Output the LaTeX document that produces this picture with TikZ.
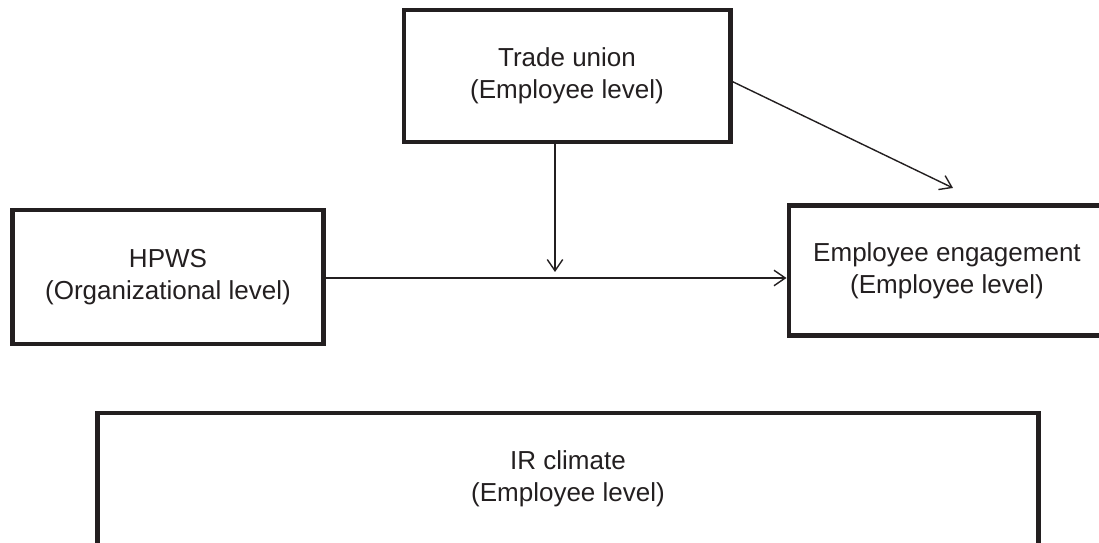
\documentclass[tikz,border=0pt]{standalone}
\usepackage{fontspec}
\setmainfont{Liberation Sans}
\usepackage{xcolor}
\usepackage{tikz}
\usetikzlibrary{arrows.meta, positioning, calc}
\definecolor{tinta}{HTML}{231F20}
\tikzset{
  every picture/.style={x=0.025cm, y=-0.025cm},
  caja/.style={draw=tinta, text=tinta, line width=3.5pt, align=center,
               font=\fontsize{18.5}{22.7}\selectfont},
  flecha/.style={-{Straight Barb[length=8pt, width=11pt]}, line width=1pt, tinta},
}

\begin{document}
\begin{tikzpicture}
  \useasboundingbox (0,0) rectangle (1099,543);
  \node[caja, minimum width=8.15cm, minimum height=3.3cm] (TU) at (567,76) {Trade union\\(Employee level)};
  \node[caja, minimum width=7.75cm, minimum height=3.35cm] (HPWS) at (168,277) {HPWS\\(Organizational level)};
  \node[caja, minimum width=7.9cm, minimum height=3.25cm] (EE) at (947,270.5) {Employee engagement\\(Employee level)};
  \node[caja, minimum width=23.5cm, minimum height=3.3cm] (IR) at (568,479) {IR climate\\(Employee level)};
  \coordinate (mod) at (555,272);
  \coordinate (eng) at (953,188);
  \draw[flecha] (TU.south -| mod) -- (mod);
  \draw[flecha] (HPWS.east |- 0,278) -- (EE.west |- 0,278);
  \draw[flecha] ([yshift=-4]TU.east) -- (eng);
\end{tikzpicture}
\end{document}
